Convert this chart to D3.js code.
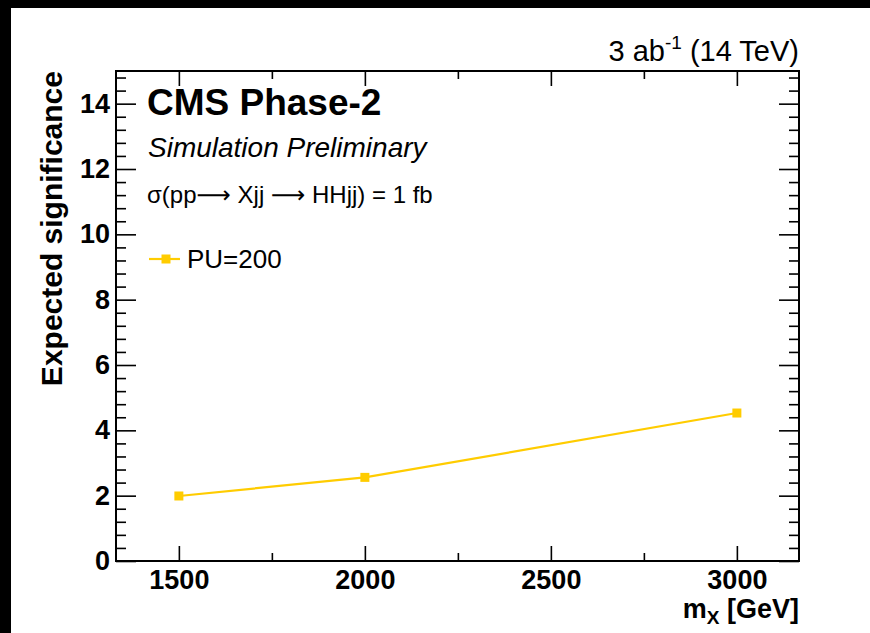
<!DOCTYPE html>
<html>
<head>
<meta charset="utf-8">
<script src="https://cdn.jsdelivr.net/npm/d3@7"></script>
<style>
  html, body { margin: 0; padding: 0; background: #000; }
  svg { display: block; }
  text { font-family: "Liberation Sans", Arial, Helvetica, sans-serif; fill: #000; }
</style>
</head>
<body>
<svg id="chart" width="870" height="633"></svg>
<script>
// Resonance mass points and expected significance (PU=200)
const massPoints = [1500, 2000, 3000];
const significance = [1.99, 2.56, 4.53];
const seriesName = "PU=200";

// Axis ticks
const xMajorTicks = [1500, 2000, 2500, 3000];
const xMinorTicks = [1750, 2250, 2750];
const yMajorTicks = [0, 2, 4, 6, 8, 10, 12, 14];
const yMinorTicks = d3.range(1, 38).map(i => +(i * 0.4).toFixed(1)).filter(v => v % 2 !== 0 && v < 15);

const W = 870, H = 633;
const plot = { left: 116, right: 799, top: 71, bottom: 561 };
const lineColor = "#ffcc00";

const svg = d3.select("#chart");

// page canvas
svg.append("rect").attr("x", 11).attr("y", 8).attr("width", W - 11).attr("height", H - 8).attr("fill", "#fff");

const x = d3.scaleLinear().domain([1331, 3167]).range([plot.left, plot.right]);
const y = d3.scaleLinear().domain([0, 15]).range([plot.bottom, plot.top]);

const axisStyle = g => {
  g.select(".domain").remove();
  g.selectAll(".tick line").attr("stroke", "#000").attr("stroke-width", 1.6);
};
const labelStyle = g => g.selectAll("text")
  .attr("font-size", 27).attr("font-weight", "bold")
  .attr("font-family", "'Liberation Sans', Arial, sans-serif").attr("fill", "#000");

// bottom axis: major ticks with labels, minor ticks
svg.append("g").attr("transform", `translate(0,${plot.bottom})`)
  .call(d3.axisBottom(x).tickValues(xMajorTicks).tickSize(-15).tickPadding(9).tickFormat(d3.format("d")))
  .call(axisStyle)
  .call(labelStyle);
svg.append("g").attr("transform", `translate(0,${plot.bottom})`)
  .call(d3.axisBottom(x).tickValues(xMinorTicks).tickSize(-8).tickFormat(""))
  .call(axisStyle);

// top axis (mirrored ticks)
svg.append("g").attr("transform", `translate(0,${plot.top})`)
  .call(d3.axisTop(x).tickValues(xMajorTicks).tickSize(-15).tickFormat(""))
  .call(axisStyle);
svg.append("g").attr("transform", `translate(0,${plot.top})`)
  .call(d3.axisTop(x).tickValues(xMinorTicks).tickSize(-8).tickFormat(""))
  .call(axisStyle);

// left axis
svg.append("g").attr("transform", `translate(${plot.left},0)`)
  .call(d3.axisLeft(y).tickValues(yMajorTicks).tickSize(-20).tickPadding(6).tickFormat(d3.format("d")))
  .call(axisStyle)
  .call(labelStyle);
svg.append("g").attr("transform", `translate(${plot.left},0)`)
  .call(d3.axisLeft(y).tickValues(yMinorTicks).tickSize(-10).tickFormat(""))
  .call(axisStyle);

// right axis (mirrored ticks)
svg.append("g").attr("transform", `translate(${plot.right},0)`)
  .call(d3.axisRight(y).tickValues(yMajorTicks).tickSize(-20).tickFormat(""))
  .call(axisStyle);
svg.append("g").attr("transform", `translate(${plot.right},0)`)
  .call(d3.axisRight(y).tickValues(yMinorTicks).tickSize(-10).tickFormat(""))
  .call(axisStyle);

// frame
svg.append("rect")
  .attr("x", plot.left).attr("y", plot.top)
  .attr("width", plot.right - plot.left).attr("height", plot.bottom - plot.top)
  .attr("fill", "none").attr("stroke", "#000").attr("stroke-width", 2);

// data series
const pts = massPoints.map((m, i) => [m, significance[i]]);
svg.append("path")
  .datum(pts)
  .attr("fill", "none").attr("stroke", lineColor).attr("stroke-width", 2.2)
  .attr("d", d3.line().x(d => x(d[0])).y(d => y(d[1])));
svg.selectAll("rect.pt").data(pts).enter().append("rect")
  .attr("class", "pt")
  .attr("x", d => x(d[0]) - 4.5).attr("y", d => y(d[1]) - 4.5)
  .attr("width", 9).attr("height", 9).attr("fill", lineColor);

// axis titles
svg.append("text")
  .attr("transform", `translate(62,${plot.top}) rotate(-90)`)
  .attr("text-anchor", "end").attr("font-size", 30).attr("font-weight", "bold")
  .text("Expected significance");

const xt = svg.append("text")
  .attr("x", plot.right).attr("y", 618)
  .attr("text-anchor", "end").attr("font-size", 27).attr("font-weight", "bold");
xt.append("tspan").text("m");
xt.append("tspan").attr("font-size", 19).attr("dy", 6).text("X");
xt.append("tspan").attr("dy", -6).text(" [GeV]");

// luminosity / energy label
const lumi = svg.append("text")
  .attr("x", plot.right).attr("y", 61)
  .attr("text-anchor", "end").attr("font-size", 29);
lumi.append("tspan").text("3 ab");
lumi.append("tspan").attr("font-size", 19).attr("dy", -12).text("-1");
lumi.append("tspan").attr("dy", 12).text(" (14 TeV)");

// CMS labels
svg.append("text").attr("x", 147).attr("y", 115)
  .attr("font-size", 37).attr("font-weight", "bold").text("CMS Phase-2");
svg.append("text").attr("x", 148).attr("y", 157)
  .attr("font-size", 28).attr("font-style", "italic").text("Simulation Preliminary");

const proc = svg.append("text").attr("x", 147).attr("y", 203).attr("font-size", 24);
const arrow = t => t.append("tspan").attr("font-family", "'DejaVu Sans', sans-serif").text("⟶");
proc.append("tspan").text("σ(pp");
arrow(proc);
proc.append("tspan").text(" Xjj ");
arrow(proc);
proc.append("tspan").text(" HHjj) = 1 fb");

// legend
const legY = 259;
svg.append("line").attr("x1", 149).attr("x2", 180).attr("y1", legY).attr("y2", legY)
  .attr("stroke", lineColor).attr("stroke-width", 2.2);
svg.append("rect").attr("x", 166 - 4.5).attr("y", legY - 4.5).attr("width", 9).attr("height", 9).attr("fill", lineColor);
svg.append("text").attr("x", 187).attr("y", legY + 9).attr("font-size", 26).text(seriesName);
</script>
</body>
</html>
